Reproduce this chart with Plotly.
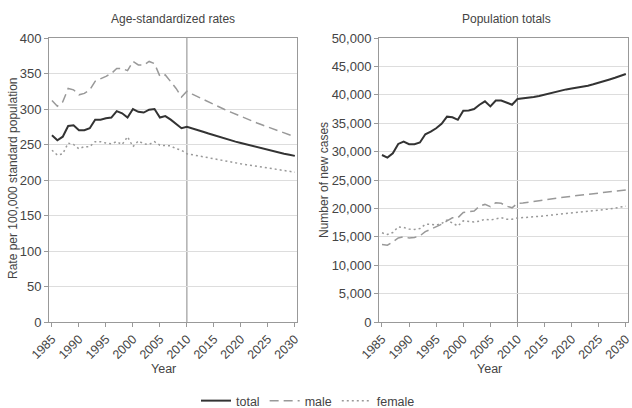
import plotly.graph_objects as go

years = list(range(1985, 2031))

# Age-standardized rates (per 100,000)
rate_total = [263, 256, 261, 276, 277, 270, 270, 273, 285, 285, 287, 288, 297, 294, 288,
              300, 296, 295, 299, 300, 288, 290, 285, 279, 273,
              275, 273, 270.5, 268, 265.5, 263, 261, 258.5, 256.5, 254, 252, 250, 248, 246,
              244.5, 242.5, 240.5, 239, 237, 235.5, 234]
rate_male = [312, 304, 310, 329, 327, 320, 322, 327, 339, 342, 346, 350, 357, 357, 354,
             367, 362, 362, 367, 364, 346, 348, 339, 329, 317,
             325, 321, 317.2, 313.5, 309.8, 306.2, 302.7, 299.3, 296, 292.7, 289.5, 286.4,
             283.3, 280.3, 277.4, 274.5, 271.7, 269, 266.3, 263.6, 261]
rate_female = [242, 235, 237, 252, 250, 244, 247, 247, 254, 254, 252, 251, 254, 250, 261,
               247, 255, 251, 250, 254, 249, 249, 248, 244, 242,
               237, 235.5, 234, 232.5, 231, 229.5, 228, 226.7, 225.4, 224.1, 222.8, 221.6,
               220.4, 219.2, 218, 216.9, 215.8, 214.7, 213.6, 212.3, 211]

# Population totals (number of new cases)
cases_total = [29400, 28940, 29700, 31350, 31760, 31300, 31300, 31600, 33050, 33500,
               34100, 34900, 36150, 36050, 35600, 37200, 37250, 37500, 38250, 38850,
               37950, 39000, 39000, 38650, 38250,
               39250, 39350, 39450, 39600, 39800, 40050, 40300, 40550, 40750, 40950,
               41100, 41250, 41400, 41600, 41850, 42100, 42400, 42700, 43000, 43300, 43650]
cases_male = [13650, 13530, 14100, 14800, 15000, 14800, 14880, 15180, 15900, 16350,
              16750, 17200, 17800, 18350, 18350, 19300, 19400, 19550, 20400, 20700,
              20300, 21000, 20900, 20400, 20100,
              20900, 20950, 21050, 21200, 21350, 21500, 21650, 21800, 21950, 22050,
              22150, 22250, 22350, 22450, 22600, 22700, 22800, 22900, 23000, 23100, 23250]
cases_female = [15700, 15400, 15750, 16750, 16650, 16350, 16300, 16450, 17200, 17200,
                17050, 17350, 17950, 17350, 16900, 17800, 17650, 17600, 17750, 18100,
                17950, 18100, 18350, 18100, 18100,
                18300, 18350, 18450, 18500, 18600, 18700, 18800, 18850, 18950, 19050,
                19100, 19200, 19300, 19400, 19500, 19650, 19750, 19900, 20050, 20200, 20400]

x_ticks = list(range(1985, 2031, 5))
rate_ticks = list(range(0, 401, 50))
case_ticks = list(range(0, 50001, 5000))

FONT = "Liberation Sans, Arial, sans-serif"
TXT = "#444444"
GRID = "#dddddd"
AX = "#999999"

fig = go.Figure()

styles = {
    "total": dict(color="#333333", width=2, dash="solid"),
    "male": dict(color="#999999", width=1.5, dash="9px,5px"),
    "female": dict(color="#999999", width=1.5, dash="2px,3px"),
}

for name, ys in [("total", rate_total), ("male", rate_male), ("female", rate_female)]:
    fig.add_trace(go.Scatter(x=years, y=ys, mode="lines", name=name, line=styles[name],
                             xaxis="x", yaxis="y", showlegend=True, legendgroup=name))
for name, ys in [("total", cases_total), ("male", cases_male), ("female", cases_female)]:
    fig.add_trace(go.Scatter(x=years, y=ys, mode="lines", name=name, line=styles[name],
                             xaxis="x2", yaxis="y2", showlegend=False, legendgroup=name))

W, H = 632, 408
ml, mr, mt, mb = 49, 4, 38, 86
pw = W - ml - mr
ph = H - mt - mb
d1 = [0, (297 - ml) / pw]
d2 = [(379 - ml) / pw, 1]


def px(v):
    return (v - ml) / pw


def py(v):
    return (H - mb - v) / ph


xcommon = dict(range=[1984.45, 2030.4], tickvals=x_ticks, tickangle=-45, showgrid=False,
               showline=True, linecolor=AX, linewidth=1, mirror=True, ticks="outside",
               ticklen=4, tickcolor=AX, automargin=False,
               ticklabeloverflow="allow",
               tickfont=dict(size=12.5, color=TXT, family=FONT),
               zeroline=False)
ycommon = dict(showgrid=True, gridcolor=GRID, gridwidth=1, showline=True, linecolor=AX,
               linewidth=1, mirror=True, ticks="outside", ticklen=4, tickcolor=AX,
               automargin=False, ticklabeloverflow="allow",
               tickfont=dict(size=13, color=TXT, family=FONT), zeroline=False)

ann_font = dict(size=12, color=TXT, family=FONT)

fig.update_layout(
    width=W, height=H,
    margin=dict(l=ml, r=mr, t=mt, b=mb, autoexpand=False),
    paper_bgcolor="white", plot_bgcolor="white",
    font=dict(family=FONT, color=TXT),
    xaxis=dict(domain=d1, anchor="y", **xcommon),
    yaxis=dict(domain=[0, 1], anchor="x", range=[0, 400], tickvals=rate_ticks, **ycommon),
    xaxis2=dict(domain=d2, anchor="y2", **xcommon),
    yaxis2=dict(domain=[0, 1], anchor="x2", range=[0, 50000], tickvals=case_ticks,
                tickformat=",d", **ycommon),
    legend=dict(orientation="h", xref="container", yref="container",
                x=196 / W, y=(H - 401) / H, xanchor="left",
                yanchor="middle", font=dict(size=12.5, color=TXT, family=FONT),
                itemwidth=30, tracegroupgap=0, bgcolor="rgba(0,0,0,0)"),
    annotations=[
        dict(text="Age-standardized rates", x=px(173), y=py(19),
             xref="paper", yref="paper", showarrow=False, xanchor="center",
             yanchor="middle", font=ann_font),
        dict(text="Population totals", x=px(506), y=py(19),
             xref="paper", yref="paper", showarrow=False, xanchor="center",
             yanchor="middle", font=ann_font),
        dict(text="Year", x=px(163), y=py(369),
             xref="paper", yref="paper", showarrow=False, xanchor="center",
             yanchor="middle", font=dict(size=12.5, color=TXT, family=FONT)),
        dict(text="Year", x=px(489), y=py(369),
             xref="paper", yref="paper", showarrow=False, xanchor="center",
             yanchor="middle", font=dict(size=12.5, color=TXT, family=FONT)),
        dict(text="Rate per 100,000 standard population", x=px(13), y=py(178),
             xref="paper", yref="paper", showarrow=False, xanchor="center",
             yanchor="middle", textangle=-90, font=ann_font),
        dict(text="Number of new cases", x=px(324), y=py(180),
             xref="paper", yref="paper", showarrow=False, xanchor="center",
             yanchor="middle", textangle=-90, font=ann_font),
    ],
    shapes=[
        dict(type="line", xref="x", yref="y", x0=2010, x1=2010, y0=0, y1=400,
             line=dict(color="#888888", width=1), layer="below"),
        dict(type="line", xref="x2", yref="y2", x0=2010, x1=2010, y0=0, y1=50000,
             line=dict(color="#888888", width=1), layer="below"),
    ],
)

fig.write_html("out.html")
